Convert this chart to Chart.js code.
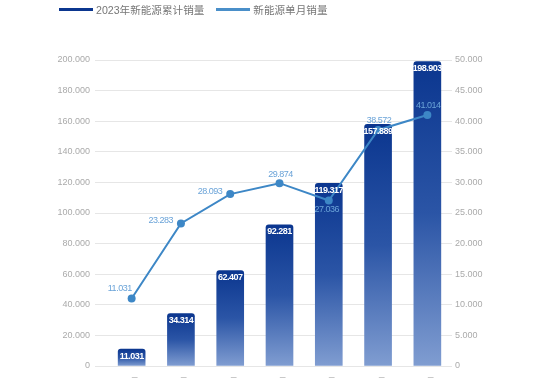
<!DOCTYPE html>
<html>
<head>
<meta charset="utf-8">
<script src="https://cdn.jsdelivr.net/npm/chart.js@4.4.0/dist/chart.umd.min.js"></script>
<style>
  html, body { margin: 0; padding: 0; overflow: hidden; background: #fff; }
  #wrap { position: relative; width: 550px; height: 400px; }
  #legend { position: absolute; top: 0; left: 59px; font: 10.6px "Liberation Sans", "Noto Sans CJK SC", sans-serif; color: #777; white-space: nowrap; line-height: 14px; }
  #legend .item { display: inline-flex; align-items: center; margin-right: 12px; }
  #legend .swatch { display: inline-block; width: 34px; height: 3px; margin-right: 3px; }
</style>
</head>
<body>
<div id="wrap">
  <canvas id="salesChart" width="550" height="400"></canvas>
  <div id="legend"></div>
</div>
<script>
'use strict';

// data
const months = ['1月', '2月', '3月', '4月', '5月', '6月', '7月'];
const seriesNames = ['2023年新能源累计销量', '新能源单月销量'];
const cumulativeSales = [11031, 34314, 62407, 92281, 119317, 157889, 198903];
const monthlySales = [11031, 23283, 28093, 29874, 27036, 38572, 41014];

// where each monthly label sits around its point
const lineLabelPlacement = ['topleft', 'left', 'left', 'top', 'bottom', 'top', 'top'];

const barTopColor = '#0b368f';
const barMidColor = '#2b55a6';
const barBottomColor = '#809dd1';
const lineColor = '#3d87c6';
const lineLabelColor = '#6aa3d8';
const gridColor = '#e6e6e6';
const tickColor = '#aaa';

function formatNumber(n) {
  return Math.round(n).toLocaleString('de-DE');
}

function barGradient(context) {
  let chart = context.chart;
  if (!chart.chartArea || context.type !== 'data') return barMidColor;
  let yScale = chart.scales.y;
  let top = yScale.getPixelForValue(context.raw);
  let bottom = yScale.getPixelForValue(0);
  let g = chart.ctx.createLinearGradient(0, top, 0, bottom);
  g.addColorStop(0, barTopColor);
  g.addColorStop(0.5, barMidColor);
  g.addColorStop(1, barBottomColor);
  return g;
}

// html legend
let legendColors = [barTopColor, '#4a8fc9'];
let legendHtml = '';
for (let i = 0; i < seriesNames.length; i++) {
  legendHtml += '<span class="item"><span class="swatch" style="background:' + legendColors[i] + '"></span>' + seriesNames[i] + '</span>';
}
document.getElementById('legend').innerHTML = legendHtml;

const valueLabels = {
  id: 'valueLabels',
  afterDatasetsDraw(chart) {
    const ctx = chart.ctx;
    ctx.save();
    if ('letterSpacing' in ctx) ctx.letterSpacing = '-0.5px';

    // bar values, white inside the bar top
    ctx.font = 'bold 9px "Liberation Sans", Arial, sans-serif';
    ctx.fillStyle = '#fff';
    ctx.textAlign = 'center';
    ctx.textBaseline = 'middle';
    chart.getDatasetMeta(1).data.forEach(function(bar, i) {
      ctx.fillText(formatNumber(cumulativeSales[i]), bar.x, bar.y + 7);
    });

    // line values
    ctx.font = '9px "Liberation Sans", Arial, sans-serif';
    ctx.fillStyle = lineLabelColor;
    chart.getDatasetMeta(0).data.forEach(function(pt, i) {
      let text = formatNumber(monthlySales[i]);
      let place = lineLabelPlacement[i];
      if (place === 'topleft') {
        ctx.textAlign = 'right';
        ctx.fillText(text, pt.x, pt.y - 10);
      } else if (place === 'left') {
        ctx.textAlign = 'right';
        ctx.fillText(text, pt.x - 8, pt.y - 3);
      } else if (place === 'bottom') {
        ctx.textAlign = 'center';
        ctx.fillText(text, pt.x - 2, pt.y + 9);
      } else {
        ctx.textAlign = 'center';
        ctx.fillText(text, pt.x + 1, pt.y - 9);
      }
    });
    ctx.restore();
  }
};

new Chart(document.getElementById('salesChart'), {
  data: {
    labels: months,
    datasets: [
      {
        type: 'line',
        label: seriesNames[1],
        data: monthlySales,
        yAxisID: 'y1',
        order: 0,
        borderColor: lineColor,
        backgroundColor: lineColor,
        borderWidth: 2,
        pointRadius: 4,
        pointBorderWidth: 0,
        pointBackgroundColor: lineColor,
        tension: 0
      },
      {
        type: 'bar',
        label: seriesNames[0],
        data: cumulativeSales,
        yAxisID: 'y',
        order: 1,
        backgroundColor: barGradient,
        barThickness: 27,
        borderRadius: { topLeft: 3, topRight: 3 },
        borderSkipped: 'bottom'
      }
    ]
  },
  options: {
    responsive: false,
    animation: false,
    layout: { padding: { top: 60, left: 0, right: 0, bottom: 0 } },
    plugins: {
      legend: { display: false },
      tooltip: { enabled: false }
    },
    scales: {
      x: {
        grid: { display: false, drawTicks: false },
        border: { display: false },
        ticks: { color: '#999', padding: 10, font: { size: 11 } },
        afterFit: function(scale) { scale.height = 34; }
      },
      y: {
        position: 'left',
        min: 0,
        max: 200000,
        grid: { color: gridColor, tickLength: 12, drawTicks: true },
        border: { display: false },
        ticks: {
          stepSize: 20000,
          color: tickColor,
          padding: 5,
          font: { size: 9, family: '"Liberation Sans", Arial, sans-serif' },
          callback: function(v) { return formatNumber(v); }
        },
        afterFit: function(scale) { scale.width = 107; }
      },
      y1: {
        position: 'right',
        min: 0,
        max: 50000,
        grid: { display: false, drawTicks: false },
        border: { display: false },
        ticks: {
          stepSize: 5000,
          color: tickColor,
          padding: 3,
          font: { size: 9, family: '"Liberation Sans", Arial, sans-serif' },
          callback: function(v) { return formatNumber(v); }
        },
        afterFit: function(scale) { scale.width = 98; }
      }
    }
  },
  plugins: [valueLabels]
});
</script>
</body>
</html>
